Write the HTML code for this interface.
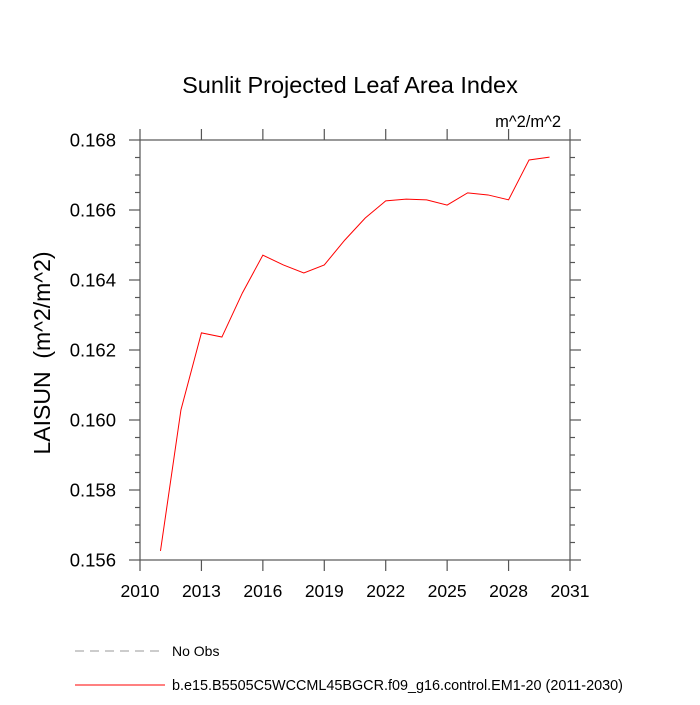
<!DOCTYPE html>
<html><head><meta charset="utf-8"><style>
body{margin:0;background:#fff;}
text{font-family:"Liberation Sans",sans-serif;}
</style></head><body>
<svg id="chart" width="700" height="700" xmlns="http://www.w3.org/2000/svg">
<text x="350" y="93" font-size="23.5" text-anchor="middle">Sunlit Projected Leaf Area Index</text>
<text x="561" y="127" font-size="16.5" text-anchor="end">m^2/m^2</text>
<text transform="translate(50,353) rotate(-90)" font-size="23" text-anchor="middle" xml:space="preserve">LAISUN  (m^2/m^2)</text>
<g id="axes"></g>
<g id="series"></g>
<line x1="75" y1="651" x2="165" y2="651" stroke="#999" stroke-dasharray="9,6" stroke-width="1"/>
<text x="172" y="656" font-size="14">No Obs</text>
<line x1="75" y1="685" x2="165" y2="685" stroke="red" stroke-width="1"/>
<text x="172" y="690" font-size="14.4">b.e15.B5505C5WCCML45BGCR.f09_g16.control.EM1-20 (2011-2030)</text>
</svg>
<script>
const years=[2011,2012,2013,2014,2015,2016,2017,2018,2019,2020,2021,2022,2023,2024,2025,2026,2027,2028,2029,2030];
const laisun=[0.15626,0.16029,0.16249,0.16237,0.16363,0.16471,0.16443,0.16420,0.16443,0.16514,0.16577,0.16626,0.16631,0.16629,0.16614,0.16649,0.16643,0.16629,0.16743,0.16751];
const xTicks=[2010,2013,2016,2019,2022,2025,2028,2031];
const yTicks=[0.156,0.158,0.160,0.162,0.164,0.166,0.168];
const X0=140,X1=570,Y0=140,Y1=560;
const xmin=2010,xmax=2031,ymin=0.156,ymax=0.168;
function sx(v){return X0+(v-xmin)/(xmax-xmin)*(X1-X0);}
function sy(v){return Y1-(v-ymin)/(ymax-ymin)*(Y1-Y0);}
const NS="http://www.w3.org/2000/svg";
const axes=document.getElementById('axes');
const AX='#555';
function mk(tag,attrs,parent){const e=document.createElementNS(NS,tag);for(const k in attrs)e.setAttribute(k,attrs[k]);parent.appendChild(e);return e;}
const frame=mk('rect',{x:X0,y:Y0,width:X1-X0,height:Y1-Y0,fill:'none',stroke:AX,'stroke-width':1.2},axes);


xTicks.forEach(v=>{
  const x=sx(v);
  const t1=mk('line',{x1:x,y1:Y1,x2:x,y2:Y1+11,stroke:AX,'stroke-width':1.2},axes);
  
  
  const t2=mk('line',{x1:x,y1:Y0,x2:x,y2:Y0-11,stroke:AX,'stroke-width':1.2},axes);
  
  
  const t=mk('text',{x:x,y:Y1+37,'font-size':17.5,'text-anchor':'middle'},axes);t.textContent=v;
  
  
});
for(let i=0;i<=24;i++){
  const v=ymin+i*0.0005;const major=i%4===0;const L=major?11:5;const y=sy(v);
  const t1=mk('line',{x1:X0,y1:y,x2:X0-L,y2:y,stroke:AX,'stroke-width':1.2},axes);
  
  
  const t2=mk('line',{x1:X1,y1:y,x2:X1+L,y2:y,stroke:AX,'stroke-width':1.2},axes);
  
  
}
yTicks.forEach(v=>{
  const t=mk('text',{x:X0-24,y:sy(v)+6.5,'font-size':18.5,'text-anchor':'end'},axes);t.textContent=v.toFixed(3);
  
  
});
const pts=years.map((y,i)=>sx(y)+','+sy(laisun[i])).join(' ');
const line=mk('polyline',{points:pts,fill:'none',stroke:'red','stroke-width':1},document.getElementById('series'));


</script>
</body></html>
